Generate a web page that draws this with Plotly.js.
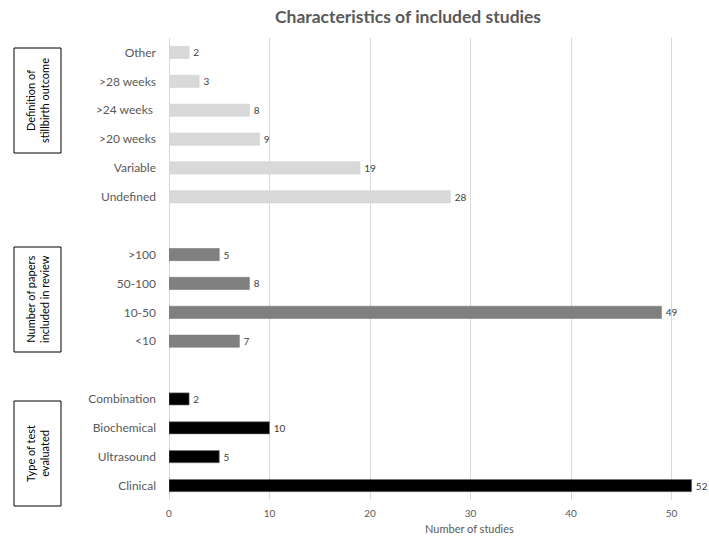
<!DOCTYPE html>
<html>
<head>
<meta charset="utf-8">
<script src="https://cdn.plot.ly/plotly-3.0.1.min.js"></script>
<style>html,body{margin:0;padding:0;background:#fff;}#chart{width:709px;height:537px;}</style>
</head>
<body>
<div id="chart"></div>
<script>
// Data (top to bottom)
const outcomeCats = ['Other', '>28 weeks', '>24 weeks ', '>20 weeks', 'Variable', 'Undefined'];
const outcomeVals = [2, 3, 8, 9, 19, 28];
const papersCats = ['>100', '50-100', '10-50', '<10'];
const papersVals = [5, 8, 49, 7];
const testCats = ['Combination', 'Biochemical', 'Ultrasound', 'Clinical'];
const testVals = [2, 10, 5, 52];
const gap1 = ' ';
const gap2 = '  ';
const groupTitles = ['Definition of<br>stillbirth outcome', 'Number of papers<br>included in review', 'Type of test<br>evaluated'];
const xTicks = [0, 10, 20, 30, 40, 50];

const catOrder = [...outcomeCats, gap1, ...papersCats, gap2, ...testCats];

const font = 'Lato, "Open Sans", sans-serif';
function barTrace(cats, vals, color, lineColor) {
  return {
    type: 'bar', orientation: 'h', y: cats, x: vals,
    width: 0.42,
    marker: {color: color, line: {color: lineColor, width: 0.6}},
    text: vals.map(v => '\u2009' + v), textposition: 'outside', cliponaxis: false,
    textfont: {family: font, size: 10, color: '#404040'},
    hoverinfo: 'x+y', showlegend: false
  };
}

const traces = [
  barTrace(outcomeCats, outcomeVals, '#d9d9d9', '#d0d0d0'),
  barTrace(papersCats, papersVals, '#808080', '#7a7a7a'),
  barTrace(testCats, testVals, '#000000', '#6f6f6f')
];

// box geometry in pixels -> paper
const L = 169, W = 540, T = 38, H = 462;
const px = v => (v - L) / W;
const py = v => (T + H - v) / H;
const boxes = [[14, 48, 61, 153], [14, 247, 61, 352], [14, 401, 61, 506]];

const shapes = boxes.map(b => ({
  type: 'rect', xref: 'paper', yref: 'paper',
  x0: px(b[0]), x1: px(b[2]), y0: py(b[3]), y1: py(b[1]),
  line: {color: '#000', width: 1}, fillcolor: 'rgba(0,0,0,0)'
}));

const annotations = boxes.map((b, i) => ({
  xref: 'paper', yref: 'paper',
  x: px((b[0] + b[2]) / 2), y: py((b[1] + b[3]) / 2),
  text: groupTitles[i], textangle: -90, showarrow: false,
  font: {family: font, size: 11, color: '#000'},
  xanchor: 'center', yanchor: 'middle'
}));
annotations.push({
  xref: 'paper', yref: 'paper', x: px(469), y: py(528),
  text: 'Number of studies', showarrow: false,
  font: {family: font, size: 11, color: '#595959'},
  xanchor: 'center', yanchor: 'middle'
});

const layout = {
  width: 709, height: 537,
  margin: {l: L, r: 709 - L - W, t: T, b: 537 - T - H},
  paper_bgcolor: '#fff', plot_bgcolor: '#fff',
  title: {text: 'Characteristics of included studies', x: 408 / 709, xanchor: 'center', y: 1 - 17 / 537, yanchor: 'middle',
          font: {family: font, size: 17.5, color: '#595959', weight: 'bold'}},
  barmode: 'overlay',
  xaxis: {
    range: [0, W / 10.05], tickvals: xTicks, ticks: '', showgrid: true,
    gridcolor: '#d9d9d9', gridwidth: 1, zeroline: true, zerolinecolor: '#d9d9d9',
    showline: false, ticklabelstandoff: 6, tickfont: {family: font, size: 10, color: '#595959'},
    fixedrange: true
  },
  yaxis: {
    type: 'category', categoryorder: 'array', categoryarray: catOrder,
    range: [catOrder.length - 0.5, -0.5], ticks: '', showgrid: false, zeroline: false,
    showline: false, ticklabelstandoff: 12,
    tickfont: {family: font, size: 12, color: '#595959'}, fixedrange: true
  },
  shapes: shapes,
  annotations: annotations
};

Plotly.newPlot('chart', traces, layout, {displayModeBar: false, staticPlot: true});
</script>
</body>
</html>
